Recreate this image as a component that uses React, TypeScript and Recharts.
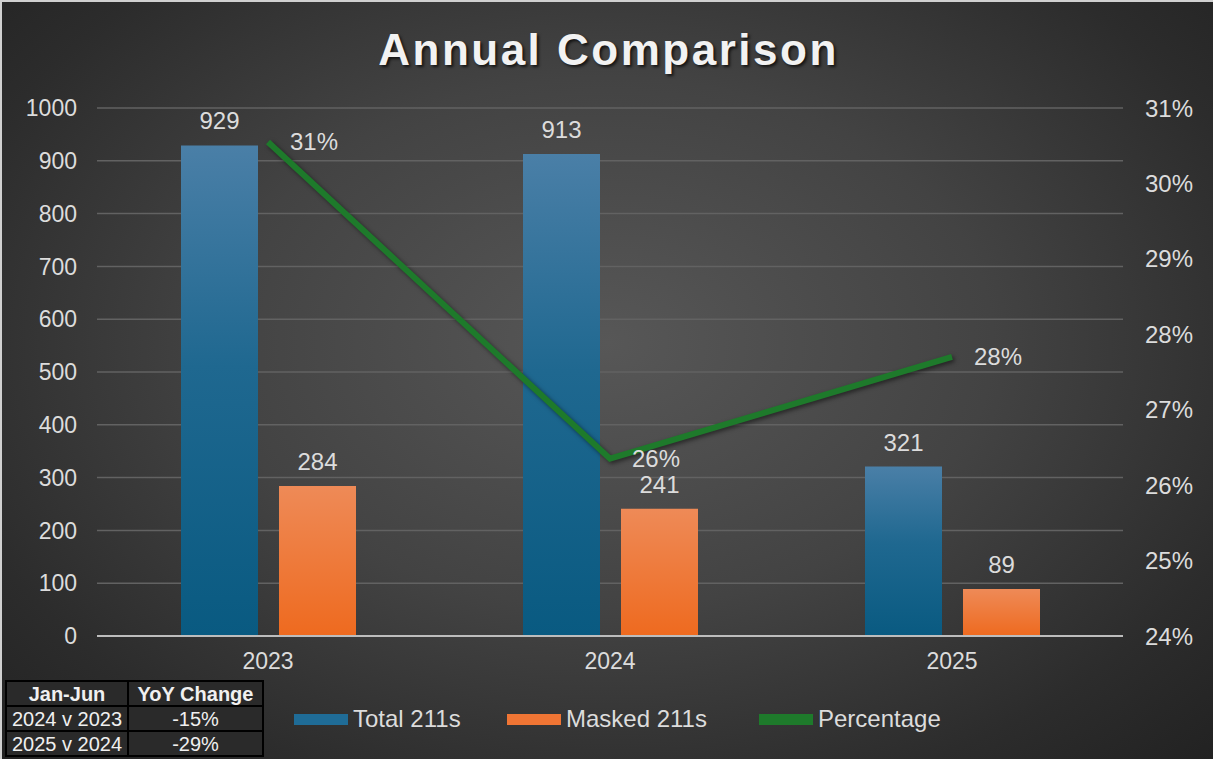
import React from 'react';
import { ComposedChart, Bar, Line, XAxis, YAxis, CartesianGrid, LabelList } from 'recharts';

const years = ['2023', '2024', '2025'];
const total211s = [929, 913, 321];
const masked211s = [284, 241, 89];
const percentage = [30.55, 26.35, 27.7];

const leftTicks = [0, 100, 200, 300, 400, 500, 600, 700, 800, 900, 1000];
const rightTicks = [24, 25, 26, 27, 28, 29, 30, 31];

const tableHeader = ['Jan-Jun', 'YoY Change'];
const tableRows = [
  ['2024 v 2023', '-15%'],
  ['2025 v 2024', '-29%'],
];

const data = years.map((year, i) => ({
  year,
  total: total211s[i],
  masked: masked211s[i],
  pct: percentage[i],
}));

const FONT = '"Liberation Sans", Arial, sans-serif';
const TEXT = '#dcdcdc';

const legendItems = [
  { label: 'Total 211s', color: '#1f6c97', left: 292 },
  { label: 'Masked 211s', color: '#f07534', left: 505 },
  { label: 'Percentage', color: '#1e7a2b', left: 757 },
];

export default function App() {
  return (
    <div
      style={{
        position: 'absolute',
        left: 0,
        top: 0,
        width: 1213,
        height: 759,
        overflow: 'hidden',
        fontFamily: FONT,
        background: 'radial-gradient(ellipse at 50% 45%, #575757 0%, #434343 45%, #2c2c2c 80%, #222 100%)',
        borderTop: '2px solid #d0d0d0',
        borderLeft: '2px solid #d0d0d0',
        boxSizing: 'border-box',
      }}
    >
      <div
        style={{
          position: 'absolute',
          top: 23,
          left: 0,
          width: 1213,
          textAlign: 'center',
          fontSize: 44,
          fontWeight: 'bold',
          letterSpacing: 2.5,
          color: '#f2f2f2',
          textShadow: '2px 2px 3px rgba(0,0,0,0.7)',
        }}
      >
        Annual Comparison
      </div>

      <div style={{ position: 'absolute', left: -2, top: -2 }}>
        <ComposedChart
          width={1213}
          height={759}
          data={data}
          margin={{ top: 108, right: 0, left: 0, bottom: 83 }}
          barGap={21}
        >
          <defs>
            <linearGradient id="blueGrad" x1="0" y1="0" x2="0" y2="1">
              <stop offset="0%" stopColor="#4a7fa7" />
              <stop offset="45%" stopColor="#1f6890" />
              <stop offset="100%" stopColor="#095a81" />
            </linearGradient>
            <linearGradient id="orangeGrad" x1="0" y1="0" x2="0" y2="1">
              <stop offset="0%" stopColor="#ee8a57" />
              <stop offset="100%" stopColor="#ee6a1f" />
            </linearGradient>
          </defs>
          <CartesianGrid yAxisId="left" vertical={false} stroke="#626262" strokeWidth={1.5} />
          <XAxis
            dataKey="year"
            height={40}
            tickLine={false}
            tickSize={0}
            tickMargin={17}
            axisLine={{ stroke: '#bdbdbd', strokeWidth: 2 }}
            tick={{ fill: TEXT, fontSize: 23, fontFamily: FONT }}
          />
          <YAxis
            yAxisId="left"
            width={97}
            domain={[0, 1000]}
            ticks={leftTicks}
            interval={0}
            axisLine={false}
            tickLine={false}
            tickSize={0}
            tickMargin={20}
            tick={{ fill: TEXT, fontSize: 23, fontFamily: FONT }}
          />
          <YAxis
            yAxisId="right"
            orientation="right"
            width={90}
            domain={[24, 31]}
            ticks={rightTicks}
            interval={0}
            axisLine={false}
            tickLine={false}
            tickSize={0}
            tickMargin={22}
            tickFormatter={(v) => `${v}%`}
            tick={{ fill: TEXT, fontSize: 24, fontFamily: FONT, textAnchor: 'start' }}
          />
          <Bar yAxisId="left" dataKey="total" barSize={77} fill="url(#blueGrad)" isAnimationActive={false}>
            <LabelList dataKey="total" position="top" offset={16} fill={TEXT} fontSize={24} fontFamily={FONT} />
          </Bar>
          <Bar yAxisId="left" dataKey="masked" barSize={77} fill="url(#orangeGrad)" isAnimationActive={false}>
            <LabelList dataKey="masked" position="top" offset={16} fill={TEXT} fontSize={24} fontFamily={FONT} />
          </Bar>
          <Line
            yAxisId="right"
            dataKey="pct"
            type="linear"
            stroke="#1e7a2b"
            strokeWidth={6}
            dot={false}
            isAnimationActive={false}
            style={{ filter: 'drop-shadow(2px 2px 2px rgba(0,0,0,0.5))' }}
          >
            <LabelList
              dataKey="pct"
              position="right"
              offset={22}
              fill={TEXT}
              fontSize={24}
              fontFamily={FONT}
              formatter={(v: number) => `${Math.round(v)}%`}
            />
          </Line>
        </ComposedChart>
      </div>

      {legendItems.map((item) => (
        <div
          key={item.label}
          style={{
            position: 'absolute',
            top: 703,
            left: item.left,
            display: 'flex',
            alignItems: 'center',
            color: TEXT,
            fontSize: 24,
          }}
        >
          <div style={{ width: 54, height: 11, background: item.color, marginRight: 5 }} />
          <span>{item.label}</span>
        </div>
      ))}

      <table
        style={{
          position: 'absolute',
          left: 3,
          top: 678,
          borderCollapse: 'collapse',
          fontSize: 20,
          lineHeight: '22px',
          color: '#f0f0f0',
          background: '#2a2a2a',
        }}
      >
        <thead>
          <tr>
            {tableHeader.map((h, i) => (
              <th
                key={h}
                style={{
                  border: '2px solid #000',
                  width: i === 0 ? 120 : 133,
                  height: 23,
                  padding: 0,
                  fontWeight: 'bold',
                }}
              >
                {h}
              </th>
            ))}
          </tr>
        </thead>
        <tbody>
          {tableRows.map((row) => (
            <tr key={row[0]}>
              {row.map((cell, i) => (
                <td
                  key={i}
                  style={{ border: '2px solid #000', height: 23, padding: 0, textAlign: 'center' }}
                >
                  {cell}
                </td>
              ))}
            </tr>
          ))}
        </tbody>
      </table>
    </div>
  );
}
